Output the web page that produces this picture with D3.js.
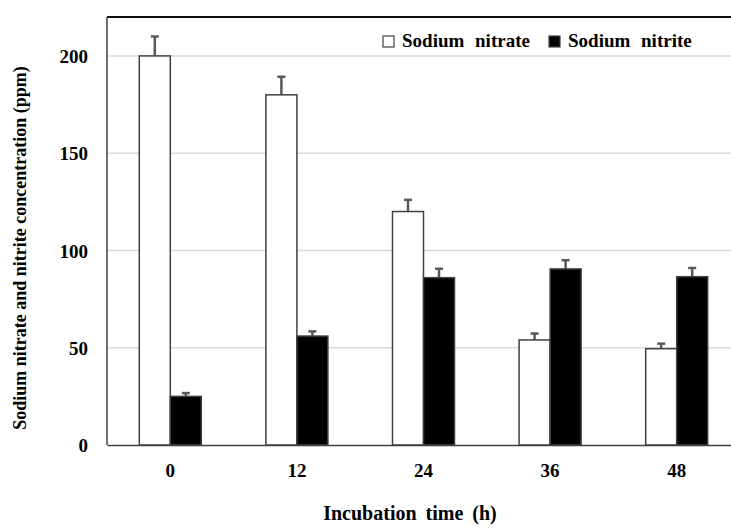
<!DOCTYPE html>
<html>
<head>
<meta charset="utf-8">
<script src="https://cdn.jsdelivr.net/npm/d3@7"></script>
<style>
  body { margin: 0; background: #fff; }
  svg { display: block; overflow: hidden; }
  text { font-family: "Liberation Serif", "DejaVu Serif", serif; font-weight: bold; fill: #000; }
</style>
</head>
<body>
<script>
'use strict';

// chart values
const times = ["0", "12", "24", "36", "48"];
const series = ["Sodium nitrate", "Sodium nitrite"];
const nitrate = [200, 180, 120, 54, 49.5];
const nitrateErr = [10, 9.3, 6, 3.3, 2.6];
const nitrite = [25, 56, 86, 90.5, 86.5];
const nitriteErr = [1.7, 2.4, 4.6, 4.5, 4.5];
const yTicks = [0, 50, 100, 150, 200];

const serif = '"Liberation Serif", "DejaVu Serif", serif';

const m = { width: 731, height: 528, left: 107, top: 17, right: 740, bottom: 445 };

const svg = d3.select('body')
  .append('svg')
  .attr('width', m.width)
  .attr('height', m.height);

// scales
const x = d3.scaleBand()
  .domain(times)
  .range([m.left, m.right]);

const xInner = d3.scaleBand()
  .domain(series)
  .range([0, 62]);

const y = d3.scaleLinear()
  .domain([0, 220])
  .range([m.bottom, m.top]);

// gridlines
svg.append('g')
  .selectAll('line')
  .data(yTicks.slice(1))
  .enter()
  .append('line')
  .attr('x1', m.left)
  .attr('x2', m.right)
  .attr('y1', (d) => y(d))
  .attr('y2', (d) => y(d))
  .attr('stroke', '#d9d9d9')
  .attr('stroke-width', 1.5);

// top border
svg.append('line')
  .attr('x1', m.left).attr('x2', m.right)
  .attr('y1', m.top).attr('y2', m.top)
  .attr('stroke', '#111')
  .attr('stroke-width', 2);

// rows of bars, one per series
const rows = [
  { name: series[0], vals: nitrate, errs: nitrateErr, fill: '#fff' },
  { name: series[1], vals: nitrite, errs: nitriteErr, fill: '#000' }
];

const barX = (s, i) => x(times[i]) + x.bandwidth() / 2 - 31 + xInner(s);

rows.forEach((row) => {
  const g = svg.append('g');
  // error bars first so the bar outline sits on top
  row.vals.forEach((v, i) => {
    const cx = barX(row.name, i) + xInner.bandwidth() / 2;
    g.append('line')
      .attr('x1', cx).attr('x2', cx)
      .attr('y1', y(v)).attr('y2', y(v + row.errs[i]))
      .attr('stroke', '#595959')
      .attr('stroke-width', 2.5);
    g.append('line')
      .attr('x1', cx - 4).attr('x2', cx + 4)
      .attr('y1', y(v + row.errs[i])).attr('y2', y(v + row.errs[i]))
      .attr('stroke', '#595959')
      .attr('stroke-width', 2.5);
  });
  g.selectAll('rect')
    .data(row.vals)
    .enter()
    .append('rect')
    .attr('x', (d, i) => barX(row.name, i))
    .attr('y', (d) => y(d))
    .attr('width', xInner.bandwidth())
    .attr('height', (d) => y(0) - y(d))
    .attr('fill', row.fill)
    .attr('stroke', '#404040')
    .attr('stroke-width', 1.5);
});

// y axis
const yAxis = d3.axisLeft(y)
  .tickValues(yTicks)
  .tickSize(0)
  .tickPadding(19);
svg.append('g')
  .attr('transform', 'translate(' + m.left + ',0)')
  .call(yAxis)
  .attr('font-family', serif)
  .call((g) => g.select('.domain').attr('stroke', '#404040').attr('stroke-width', 1.5).attr('d', 'M0,' + m.top + 'V' + m.bottom))
  .call((g) => g.selectAll('text').style('font-family', serif).style('font-size', '19px').attr('dy', '0.35em'));

// x axis
const xAxis = d3.axisBottom(x)
  .tickSize(0)
  .tickPadding(19);
svg.append('g')
  .attr('transform', 'translate(0,' + m.bottom + ')')
  .call(xAxis)
  .attr('font-family', serif)
  .call((g) => g.select('.domain').attr('stroke', '#404040').attr('stroke-width', 1.5))
  .call((g) => g.selectAll('text').style('font-family', serif).style('font-size', '19px'));

// axis titles
svg.append('text')
  .attr('x', 410)
  .attr('y', 520)
  .attr('text-anchor', 'middle')
  .style('font-family', serif)
  .style('font-size', '20px')
  .style('word-spacing', '4px')
  .text('Incubation time (h)');

svg.append('text')
  .attr('transform', 'translate(26, 248)rotate(-90)')
  .attr('text-anchor', 'middle')
  .style('font-family', serif)
  .style('font-size', '18px')
  .text('Sodium nitrate and nitrite concentration (ppm)');

// legend
const legend = svg.append('g');
const legendPos = [383, 549];
series.forEach((s, i) => {
  legend.append('rect')
    .attr('x', legendPos[i])
    .attr('y', 36)
    .attr('width', 11)
    .attr('height', 11)
    .attr('fill', rows[i].fill)
    .attr('stroke', '#404040')
    .attr('stroke-width', 1.2);
  legend.append('text')
    .attr('x', legendPos[i] + 19)
    .attr('y', 47)
    .style('font-family', serif)
    .style('font-size', '19px')
    .style('word-spacing', '6px')
    .text(s);
});
</script>
</body>
</html>
